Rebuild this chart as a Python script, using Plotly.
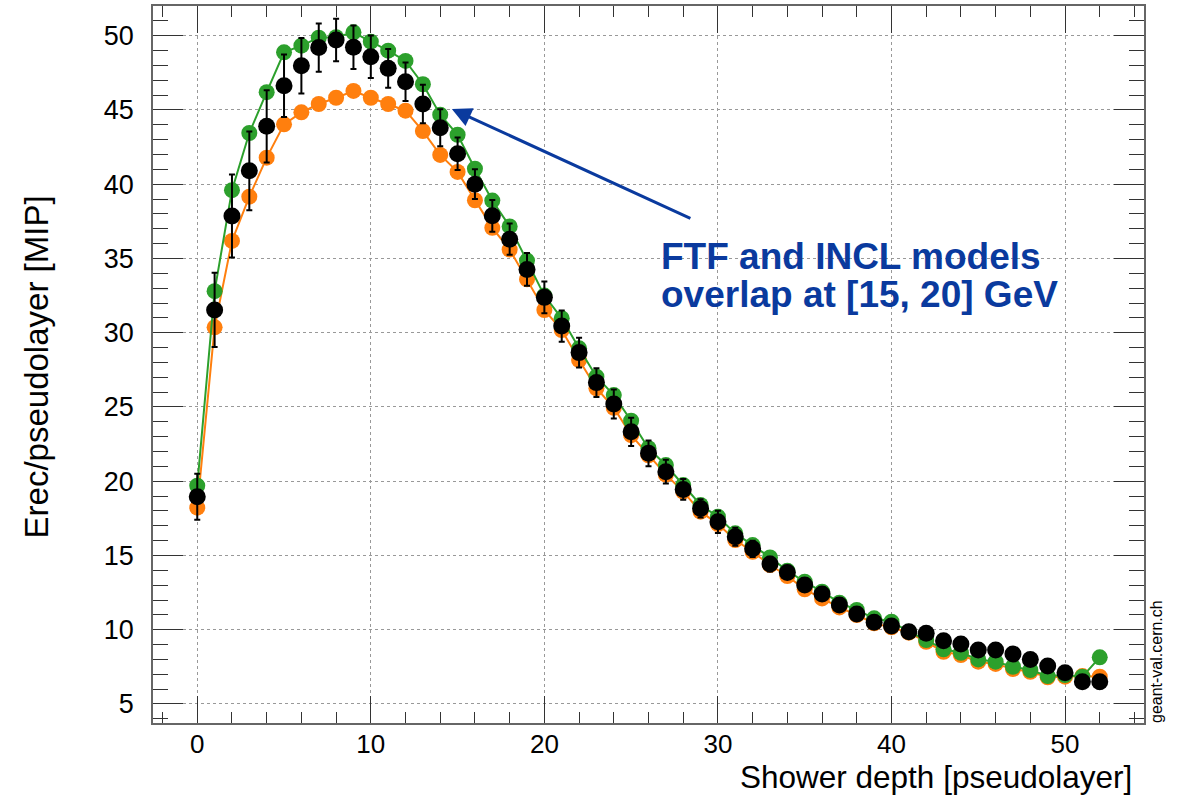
import plotly.graph_objects as go

# Shower depth (pseudolayer index)
depth = list(range(53))

# Green model curve
model_green = [19.7, 32.8, 39.6, 43.45, 46.2, 48.88, 49.33, 49.87, 49.9, 50.23,
               49.6, 48.99, 48.3, 46.73, 44.68, 43.33, 41.04, 38.9, 37.16, 34.86,
               32.5, 30.97, 28.95, 27.04, 25.8, 24.07, 22.22, 21.09, 19.74, 18.4,
               17.61, 16.49, 15.7, 14.87, 13.97, 13.23, 12.56, 11.82, 11.33, 10.77,
               10.54, 9.87, 9.31, 8.68, 8.45, 8.0, 7.85, 7.51, 7.29, 6.88,
               6.95, 6.84, 8.14]

# Orange model curve
model_orange = [18.22, 30.36, 36.18, 39.16, 41.79, 44.03, 44.84, 45.4, 45.82, 46.28,
                45.82, 45.4, 44.95, 43.58, 41.97, 40.83, 38.92, 37.06, 35.6, 33.6,
                31.53, 30.18, 28.16, 26.26, 24.95, 23.1, 21.75, 20.45, 19.3, 17.95,
                17.12, 16.04, 15.25, 14.36, 13.62, 12.72, 12.11, 11.5, 10.99, 10.43,
                10.16, 9.8, 9.19, 8.52, 8.3, 7.85, 7.7, 7.35, 7.17, 6.8,
                6.84, 6.88, 6.84]

# Data points (black) and uncertainties
data_vals = [18.96, 31.53, 37.86, 40.9, 43.9, 46.63, 47.98, 49.2, 49.71, 49.22,
             48.59, 47.8, 46.9, 45.4, 43.8, 42.05, 40.0, 37.87, 36.3, 34.26,
             32.38, 30.45, 28.66, 26.64, 25.2, 23.33, 21.88, 20.64, 19.45, 18.17,
             17.27, 16.26, 15.45, 14.42, 13.86, 13.01, 12.4, 11.66, 11.06, 10.5,
             10.25, 9.87, 9.76, 9.26, 9.04, 8.63, 8.63, 8.36, 8.0, 7.56,
             7.1, 6.5, 6.5]
data_err = [1.55, 2.5, 2.8, 2.65, 2.43, 2.1, 1.87, 1.62, 1.43, 1.46,
            1.43, 1.3, 1.3, 1.3, 1.25, 1.1, 1.0, 1.07, 1.05, 1.1,
            1.07, 1.05, 1.0, 0.97, 0.97, 0.95, 0.87, 0.8, 0.7, 0.62,
            0.75, 0.6, 0.55, 0.5, 0.45, 0.4, 0.38, 0.35, 0.3, 0.3,
            0.3, 0.3, 0.3, 0.3, 0.3, 0.3, 0.3, 0.3, 0.3, 0.3,
            0.3, 0.35, 0.45]

x_title = "Shower depth [pseudolayer]"
y_title = "Erec/pseudolayer [MIP]"
note_lines = ["FTF and INCL models", "overlap at [15, 20] GeV"]
watermark = "geant-val.cern.ch"

FONT = "Liberation Sans, Arial, Helvetica, sans-serif"
GREEN = "#2ca02c"
ORANGE = "#ff7f0e"
BLUE = "#0a3a9e"

fig = go.Figure()
fig.add_trace(go.Scatter(x=depth, y=model_orange, mode="lines+markers", name="orange",
                         line=dict(color=ORANGE, width=2),
                         marker=dict(color=ORANGE, size=16)))
fig.add_trace(go.Scatter(x=depth, y=model_green, mode="lines+markers", name="green",
                         line=dict(color=GREEN, width=2),
                         marker=dict(color=GREEN, size=16)))
fig.add_trace(go.Scatter(x=depth, y=data_vals, mode="markers", name="data",
                         marker=dict(color="black", size=17),
                         error_y=dict(type="data", array=data_err, color="black",
                                      thickness=2, width=3)))

axis_common = dict(
    showline=True, linecolor="#666", linewidth=1.5, mirror="ticks",
    ticks="inside", tickcolor="#333", tickwidth=1.2,
    showgrid=True, gridcolor="#999", griddash="dot", gridwidth=1,
    zeroline=False,
)

fig.update_xaxes(range=[-2.55, 54.55], tick0=0, dtick=10, ticklen=27,
                 minor=dict(dtick=2, tick0=0, ticklen=11, ticks="inside",
                            tickcolor="#333", showgrid=False),
                 tickfont=dict(family=FONT, size=26, color="black"),
                 ticklabelstandoff=-3, **axis_common)
fig.update_yaxes(range=[3.72, 52.0], tick0=0, dtick=5, ticklen=30,
                 minor=dict(dtick=1, tick0=0, ticklen=15, ticks="inside",
                            tickcolor="#333", showgrid=False),
                 tickfont=dict(family=FONT, size=27, color="black"),
                 ticklabelstandoff=12, **axis_common)

annotations = [
    dict(text=x_title, xref="paper", yref="paper", x=1, y=-0.075, xanchor="right",
         yanchor="middle", xshift=-10, showarrow=False,
         font=dict(family=FONT, size=31.5, color="black")),
    dict(text=y_title, xref="paper", yref="paper", x=-0.118, y=0.496, xanchor="center",
         yanchor="middle", textangle=-90, showarrow=False,
         font=dict(family=FONT, size=33, color="black")),
    dict(text=watermark, xref="paper", yref="paper", x=1.0128, y=0.086, xanchor="center",
         yanchor="middle", textangle=-90, showarrow=False,
         font=dict(family=FONT, size=16, color="black")),
    dict(text=note_lines[0], xref="paper", yref="paper", x=0.511, y=0.650,
         xanchor="left", yanchor="middle", showarrow=False,
         font=dict(family=FONT, size=37, color=BLUE, weight="bold")),
    dict(text=note_lines[1], xref="paper", yref="paper", x=0.511, y=0.597,
         xanchor="left", yanchor="middle", showarrow=False,
         font=dict(family=FONT, size=37, color=BLUE, weight="bold")),
    dict(text="", x=14.67, y=45.06, xref="x", yref="y", ax=28.5, ay=37.66,
         axref="x", ayref="y", showarrow=True, arrowhead=2, arrowsize=1.3,
         arrowwidth=3, arrowcolor=BLUE, standoff=0),
]

fig.update_layout(
    width=1179, height=795,
    margin=dict(l=153, r=35, t=6, b=72, autoexpand=False),
    paper_bgcolor="white", plot_bgcolor="white",
    showlegend=False,
    font=dict(family=FONT, color="black"),
    annotations=annotations,
)

fig.write_html("out.html",
               config={"displayModeBar": False},
               post_script="document.body.style.margin='0px';document.body.style.padding='0px';")
